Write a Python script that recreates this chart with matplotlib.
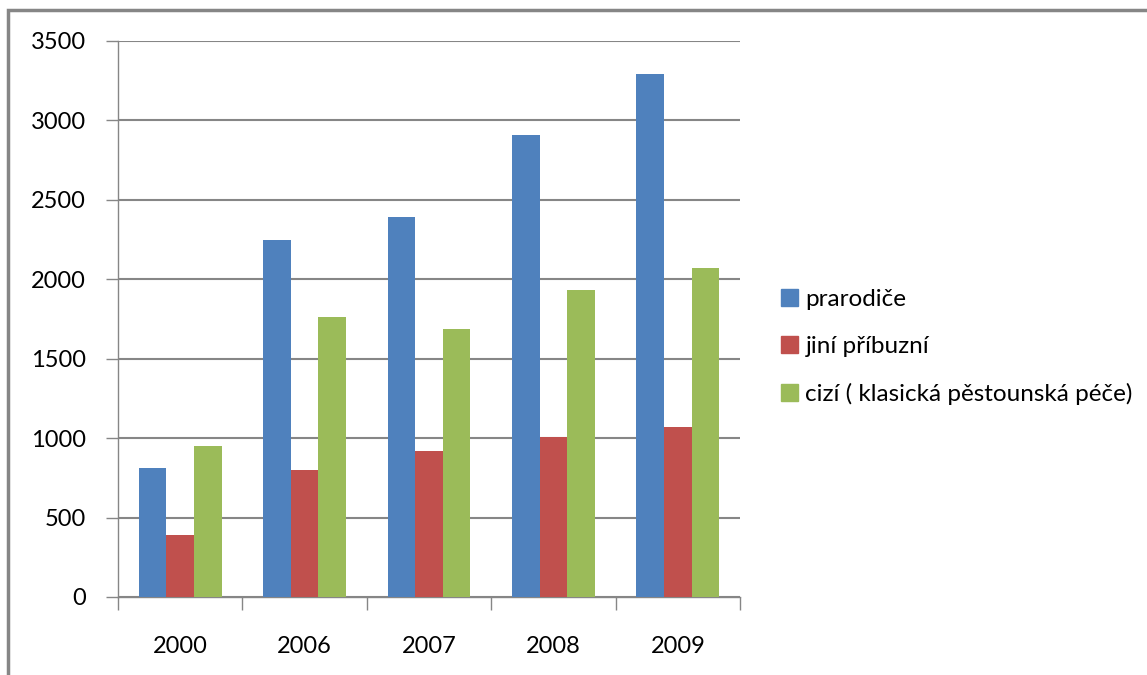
import numpy as np
import matplotlib.pyplot as plt
from matplotlib.patches import Rectangle, Patch

# data
roky = ['2000', '2006', '2007', '2008', '2009']
prarodice = [810, 2250, 2390, 2910, 3290]
jini_pribuzni = [390, 800, 920, 1010, 1070]
cizi = [950, 1760, 1690, 1935, 2070]
nazvy = ['prarodiče', 'jiní příbuzní', 'cizí ( klasická pěstounská péče)']
barvy = ['#4F81BD', '#C0504D', '#9BBB59']

plt.rcParams['font.family'] = ['Lato', 'DejaVu Sans']
seda = '#868686'

fig = plt.figure(figsize=(11.47, 6.75), dpi=100)
ax = fig.add_axes([0.1029, 0.1156, 0.5423, 0.8237])

x = np.arange(len(roky))
w = 0.222
for i, (vals, c) in enumerate(zip([prarodice, jini_pribuzni, cizi], barvy)):
    ax.bar(x + (i - 1) * w, vals, width=w, color=c, zorder=3)

ax.set_xlim(-0.5, len(roky) - 0.5)
ax.set_ylim(0, 3500)
ax.set_yticks(range(0, 3501, 500))
ax.yaxis.grid(True, color=seda, linewidth=1.5, zorder=0)

ax.set_xticks(x)
ax.set_xticklabels(roky)
ax.set_xticks(np.arange(-0.5, len(roky)), minor=True)
ax.tick_params(axis='x', which='major', length=0, pad=28, labelsize=17)
ax.tick_params(axis='x', which='minor', length=9, color=seda, width=1)
ax.tick_params(axis='y', length=9, color=seda, width=1, pad=14, labelsize=17)

for s in ['top', 'right']:
    ax.spines[s].set_visible(False)
for s in ['left', 'bottom']:
    ax.spines[s].set_color(seda)
    ax.spines[s].set_linewidth(1)

handles = [Patch(color=c) for c in barvy]
fig.legend(handles, nazvy, loc='center left', bbox_to_anchor=(0.662, 0.486),
           frameon=False, fontsize=17.5, handlelength=0.7, handleheight=0.7,
           handletextpad=0.3, labelspacing=1.05)

# ramecek kolem grafu
fig.patches.append(Rectangle((8 / 1147, -0.1), 1.2, 1 - 10 / 675 + 0.1,
                             transform=fig.transFigure, fill=False,
                             edgecolor=seda, linewidth=2.5))

fig.savefig('out.png', dpi=100)
